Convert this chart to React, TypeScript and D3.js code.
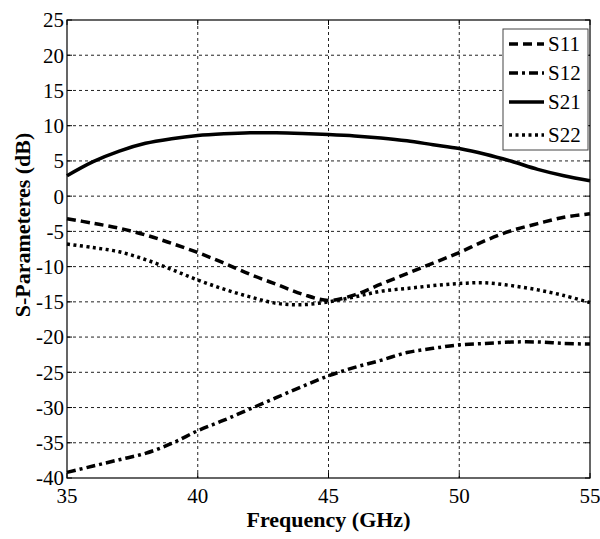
import React from "react";
import * as d3 from "d3";

const freq = [35, 36, 37, 38, 39, 40, 41, 42, 43, 44, 45, 46, 47, 48, 49, 50, 51, 52, 53, 54, 55];
const s11 = [-3.2, -3.85, -4.55, -5.5, -6.7, -8.0, -9.5, -11.1, -12.5, -13.9, -14.8, -14.0, -12.5, -11.0, -9.5, -8.0, -6.3, -4.9, -3.9, -3.0, -2.5];
const s12 = [-39.2, -38.3, -37.4, -36.5, -35.1, -33.3, -31.8, -30.2, -28.6, -27.0, -25.5, -24.3, -23.3, -22.2, -21.6, -21.1, -20.9, -20.7, -20.7, -20.9, -21.0];
const s21 = [2.9, 4.9, 6.4, 7.5, 8.15, 8.6, 8.85, 9.0, 9.0, 8.9, 8.75, 8.55, 8.25, 7.85, 7.3, 6.75, 5.95, 4.95, 3.8, 2.9, 2.2];
const s22 = [-6.8, -7.3, -7.9, -9.0, -10.4, -11.9, -13.2, -14.3, -15.2, -15.4, -15.0, -14.3, -13.5, -13.1, -12.7, -12.4, -12.3, -12.7, -13.3, -14.1, -15.1];

const xTicks = [35, 40, 45, 50, 55];
const yTicks = [25, 20, 15, 10, 5, 0, -5, -10, -15, -20, -25, -30, -35, -40];

const seriesNames = ["S11", "S12", "S21", "S22"];
const seriesValues = [s11, s12, s21, s22];
const seriesDash = ["9,5", "9,4,3,4", "none", "3,3.5"];

const W = 600;
const H = 539;
const L = 67, R = 590, T = 20, B = 478;
const FONT = "Liberation Serif, Times New Roman, DejaVu Serif, serif";

export default function App() {
  const x = d3.scaleLinear().domain([35, 55]).range([L, R]);
  const y = d3.scaleLinear().domain([-40, 25]).range([B, T]);
  const line = d3
    .line<number>()
    .x((_, i) => x(freq[i]))
    .y((d) => y(d))
    .curve(d3.curveCatmullRom.alpha(0.5));

  const legX = 503, legY = 29, legW = 85, legH = 121;
  const rowY = [44, 73, 102, 135];

  return (
    <svg width={W} height={H} style={{ position: "absolute", left: 0, top: 0, background: "#fff", fontFamily: FONT }}>
      <rect x={0} y={0} width={W} height={H} fill="#fff" />
      {xTicks.slice(1, -1).map((t) => (
        <line key={"gx" + t} x1={x(t)} x2={x(t)} y1={T} y2={B} stroke="#222" strokeWidth={1} strokeDasharray="3,3" />
      ))}
      {yTicks.slice(1, -1).map((t) => (
        <line key={"gy" + t} x1={L} x2={R} y1={y(t)} y2={y(t)} stroke="#222" strokeWidth={1} strokeDasharray="3,3" />
      ))}
      {xTicks.map((t) => (
        <g key={"tx" + t}>
          <line x1={x(t)} x2={x(t)} y1={B} y2={B - 5} stroke="#000" />
          <line x1={x(t)} x2={x(t)} y1={T} y2={T + 5} stroke="#000" />
          <text x={x(t)} y={503} textAnchor="middle" style={{ fontFamily: FONT }} fontSize={21} fill="#000">
            {t}
          </text>
        </g>
      ))}
      {yTicks.map((t) => (
        <g key={"ty" + t}>
          <line x1={L} x2={L + 5} y1={y(t)} y2={y(t)} stroke="#000" />
          <line x1={R} x2={R - 5} y1={y(t)} y2={y(t)} stroke="#000" />
          <text x={64} y={y(t)} dy="0.35em" textAnchor="end" style={{ fontFamily: FONT }} fontSize={21} fill="#000">
            {t}
          </text>
        </g>
      ))}
      {seriesValues.map((vals, k) => (
        <path
          key={seriesNames[k]}
          d={line(vals) || ""}
          fill="none"
          stroke="#000"
          strokeWidth={3.5}
          strokeDasharray={seriesDash[k]}
        />
      ))}
      <rect x={L} y={T} width={R - L} height={B - T} fill="none" stroke="#000" strokeWidth={1.2} />
      <rect x={legX} y={legY} width={legW} height={legH} fill="#fff" stroke="#444" strokeWidth={1} />
      {seriesNames.map((n, k) => (
        <g key={"lg" + n}>
          <line x1={509} x2={544} y1={rowY[k]} y2={rowY[k]} stroke="#000" strokeWidth={3.5} strokeDasharray={seriesDash[k]} />
          <text x={548} y={rowY[k]} dy="0.35em" style={{ fontFamily: FONT }} fontSize={21} fill="#000">
            {n}
          </text>
        </g>
      ))}
      <text x={(L + R) / 2} y={527} textAnchor="middle" style={{ fontFamily: FONT }} fontSize={22} fontWeight="bold" fill="#000">
        Frequency (GHz)
      </text>
      <text
        transform={`translate(30, 225) rotate(-90)`}
        textAnchor="middle"
        style={{ fontFamily: FONT }}
        fontSize={22}
        fontWeight="bold"
        fill="#000"
      >
        S-Parameteres (dB)
      </text>
    </svg>
  );
}
